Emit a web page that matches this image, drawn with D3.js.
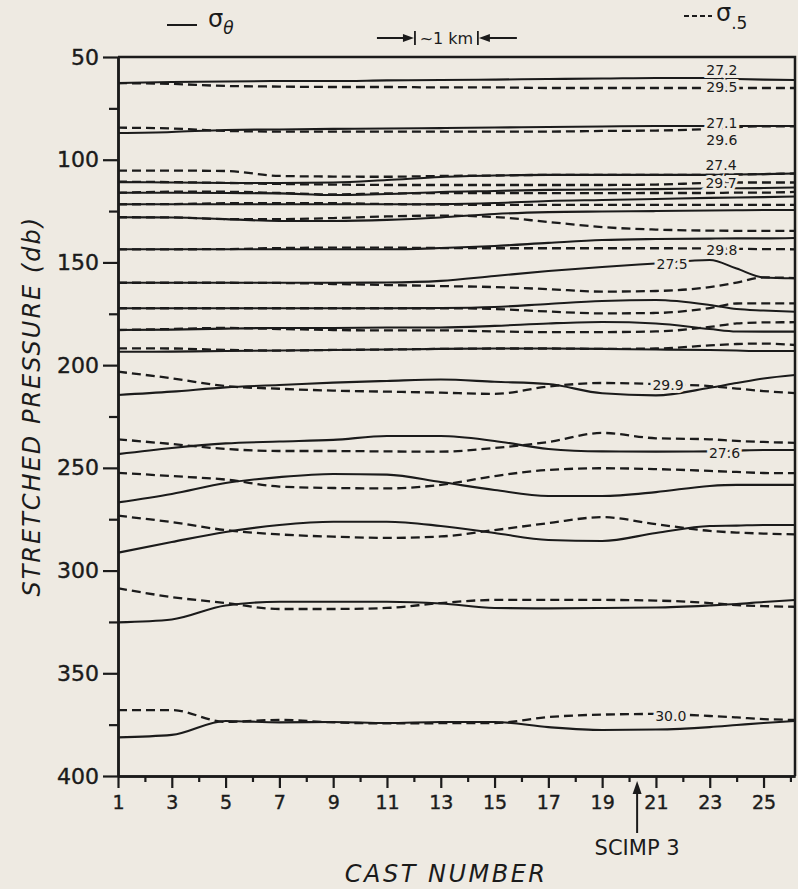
<!DOCTYPE html>
<html>
<head>
<meta charset="utf-8">
<script src="https://cdn.jsdelivr.net/npm/d3@7"></script>
<style>
  html, body { margin: 0; padding: 0; background: #eeeae2; }
  svg { display: block; }
</style>
</head>
<body>
<div id="chart"></div>
<script>
const casts = [1, 3, 5, 7, 9, 11, 13, 15, 17, 19, 21, 23, 24, 25, 26.17];

// sigma-theta surfaces (solid), stretched pressure in db at each cast
const solidLines = [
  [62.7, 62.2, 61.9, 61.7, 61.7, 61.4, 61.2, 61.0, 60.7, 60.5, 60.2, 60.2, 60.7, 61.0, 61.2], // 27.2
  [87.0, 86.5, 85.5, 85.3, 85.0, 84.8, 84.6, 84.3, 84.1, 83.8, 83.6, 83.6, 83.6, 83.6, 83.6], // 27.1
  [110.9, 111.1, 111.3, 111.3, 111.1, 109.9, 108.4, 107.7, 107.4, 107.4, 107.4, 107.4, 107.2, 107.0, 106.7], // 27.4
  [116.1, 116.1, 116.2, 116.4, 117.2, 116.7, 115.7, 115.2, 114.7, 114.5, 114.3, 114.0, 113.9, 113.8, 113.5],
  [121.7, 121.7, 121.7, 121.7, 121.7, 121.7, 121.6, 121.1, 120.1, 119.6, 119.1, 118.6, 118.4, 118.2, 117.9],
  [128.0, 128.1, 128.9, 129.8, 129.8, 129.3, 128.1, 126.4, 125.5, 125.2, 125.0, 124.7, 124.6, 124.5, 124.5],
  [143.6, 143.6, 143.6, 143.6, 143.6, 143.6, 143.0, 142.0, 140.5, 139.1, 138.6, 138.4, 138.3, 138.3, 138.1],
  [159.9, 159.9, 159.9, 159.9, 159.9, 159.8, 159.0, 156.6, 154.2, 152.2, 150.5, 148.8, 153.0, 157.3, 157.7], // 27.5
  [172.3, 172.3, 172.3, 172.3, 172.3, 172.3, 172.2, 171.7, 170.2, 168.8, 168.3, 170.7, 172.7, 173.4, 174.0],
  [182.9, 182.7, 182.2, 181.9, 181.9, 181.7, 181.7, 180.9, 179.7, 179.0, 179.7, 182.4, 183.6, 183.7, 183.7],
  [193.5, 193.4, 193.1, 192.9, 192.6, 192.4, 192.1, 191.9, 191.9, 192.1, 192.4, 192.6, 192.9, 193.1, 193.1],
  [214.5, 212.9, 210.8, 209.7, 208.5, 207.7, 207.0, 208.1, 209.2, 213.7, 214.7, 211.0, 208.7, 206.5, 204.8],
  [243.3, 240.3, 238.1, 237.2, 236.4, 234.5, 234.5, 236.9, 240.8, 242.0, 242.1, 242.0, 241.6, 241.3, 241.3], // 27.6
  [266.8, 262.7, 257.4, 254.5, 253.0, 253.3, 256.9, 260.8, 263.7, 263.7, 261.8, 258.8, 258.3, 258.3, 258.3],
  [291.3, 286.1, 281.2, 277.8, 276.2, 276.2, 278.3, 281.7, 285.1, 285.6, 281.7, 278.3, 278.1, 277.8, 277.8],
  [325.2, 323.8, 317.0, 315.2, 315.2, 315.2, 316.0, 318.2, 318.4, 318.2, 318.0, 317.0, 316.3, 315.3, 314.3],
  [381.2, 380.0, 373.2, 373.9, 373.7, 374.2, 373.7, 373.7, 376.2, 377.6, 377.4, 376.2, 375.2, 374.2, 373.2]
];

// sigma-.5 surfaces (dashed)
const dashedLines = [
  [62.7, 63.1, 64.1, 64.4, 64.6, 64.6, 64.8, 64.8, 65.1, 65.1, 65.1, 65.1, 65.1, 65.1, 65.1], // 29.5
  [84.4, 84.8, 86.0, 86.3, 86.3, 86.3, 86.3, 86.3, 86.3, 86.0, 85.8, 85.0, 84.1, 83.8, 83.8], // 29.6
  [105.3, 105.3, 105.5, 107.9, 108.2, 108.3, 107.9, 107.7, 107.4, 107.4, 107.4, 107.4, 107.2, 107.0, 106.7],
  [110.7, 110.9, 111.3, 111.8, 112.1, 112.3, 112.3, 112.3, 112.3, 112.3, 112.1, 111.3, 111.1, 111.1, 111.1], // 29.7
  [116.1, 115.6, 115.6, 116.2, 116.9, 116.4, 116.3, 116.3, 116.3, 116.3, 116.2, 116.2, 116.0, 116.0, 115.7],
  [121.7, 121.6, 121.2, 121.2, 121.2, 121.6, 121.8, 122.0, 122.0, 122.0, 122.0, 122.0, 122.0, 122.0, 122.0],
  [128.0, 128.1, 128.9, 128.9, 128.4, 127.6, 127.2, 127.9, 130.3, 132.8, 134.0, 134.5, 134.6, 134.6, 134.6],
  [143.6, 143.6, 143.5, 143.0, 142.8, 142.8, 143.0, 143.1, 143.1, 143.1, 143.1, 143.2, 143.4, 143.5, 143.6], // 29.8
  [159.9, 159.9, 159.9, 160.0, 160.5, 161.0, 161.5, 162.0, 163.0, 164.2, 163.9, 162.0, 159.8, 157.3, 157.6],
  [172.3, 172.3, 172.3, 172.3, 172.3, 172.3, 172.3, 172.7, 173.9, 174.8, 174.6, 172.2, 170.0, 169.9, 169.9],
  [182.9, 182.4, 181.9, 182.4, 182.9, 183.1, 183.1, 183.6, 183.9, 183.9, 183.6, 181.4, 179.7, 179.2, 179.1],
  [191.8, 191.9, 192.6, 192.9, 192.6, 192.4, 192.1, 191.9, 191.9, 192.1, 191.9, 190.4, 189.7, 189.5, 190.2],
  [203.2, 206.4, 210.2, 211.5, 212.4, 212.9, 213.4, 214.0, 210.4, 208.7, 209.2, 210.2, 211.4, 212.6, 213.6], // 29.9
  [236.1, 238.4, 240.8, 241.8, 241.8, 242.0, 242.1, 240.3, 237.4, 233.0, 235.6, 236.1, 236.9, 237.4, 237.8],
  [252.4, 254.0, 255.7, 259.1, 259.8, 260.0, 258.3, 254.0, 251.0, 250.2, 250.6, 251.5, 252.0, 252.5, 252.6],
  [273.3, 276.4, 280.3, 282.4, 283.5, 284.1, 283.4, 280.3, 276.9, 274.0, 277.4, 280.7, 281.5, 282.0, 282.4],
  [308.6, 312.9, 315.8, 318.7, 318.7, 318.2, 315.8, 314.3, 314.3, 314.3, 314.6, 315.8, 316.8, 317.3, 317.6],
  [367.9, 367.9, 373.7, 372.7, 373.9, 374.4, 374.3, 374.2, 371.3, 370.1, 369.8, 370.8, 371.5, 372.3, 372.7]  // 30.0
];

// contour labels: text, cast position, pressure
const labelText  = ["27.2", "29.5", "27.1", "29.6", "27.4", "29.7", "29.8", "27.5", "29.9", "27.6", "30.0"];
const labelCast  = [23.45, 23.45, 23.45, 23.45, 23.42, 23.42, 23.45, 21.6, 21.45, 23.55, 21.55];
const labelPress = [56.3, 64.8, 81.9, 90.4, 102.6, 111.1, 144.0, 150.8, 209.7, 242.6, 370.6];

const pressTicks = [50, 100, 150, 200, 250, 300, 350, 400];
const pressMinor = [75, 125, 175, 225, 275, 325, 375];
const castTicks = [1, 3, 5, 7, 9, 11, 13, 15, 17, 19, 21, 23, 25];
const castMinor = [2, 4, 6, 8, 10, 12, 14, 16, 18, 20, 22, 24, 26];
const scimpCast = 20.3;
const kmSpan = [12.04, 14.38];

const bg = "#eeeae2";
const ink = "#1b1b1b";

function drawChart(container, {width, height}) {
  const margin = {top: 57, right: 3, bottom: 113, left: 118};
  const w = width - margin.left - margin.right;
  const h = height - margin.top - margin.bottom;

  const svg = d3.select(container).append("svg")
    .attr("width", width)
    .attr("height", height)
    .style("background", bg);

  const g = svg.append("g")
    .attr("transform", `translate(${margin.left},${margin.top})`);

  const x = d3.scaleLinear().domain([1, 26.17]).range([0, w]);
  const y = d3.scaleLinear().domain([50, 400]).range([0, h]);

  const line = d3.line()
    .x((d, i) => x(casts[i]))
    .y(d => y(d))
    .curve(d3.curveMonotoneX);

  g.selectAll("path.theta")
    .data(solidLines)
    .join("path")
      .attr("class", "theta")
      .attr("d", line)
      .attr("fill", "none")
      .attr("stroke", ink)
      .attr("stroke-width", 2.1);

  g.selectAll("path.sig5")
    .data(dashedLines)
    .join("path")
      .attr("class", "sig5")
      .attr("d", line)
      .attr("fill", "none")
      .attr("stroke", ink)
      .attr("stroke-width", 2.3)
      .attr("stroke-dasharray", "9,5");

  // contour labels, with a background halo to break the line
  g.selectAll("text.clabel")
    .data(labelText)
    .join("text")
      .attr("class", "clabel")
      .attr("x", (d, i) => x(labelCast[i]))
      .attr("y", (d, i) => y(labelPress[i]))
      .attr("dy", "0.36em")
      .attr("text-anchor", "middle")
      .style("font-family", "DejaVu Sans, sans-serif")
      .style("font-size", "14px")
      .attr("fill", ink)
      .attr("stroke", bg)
      .attr("stroke-width", 6)
      .attr("paint-order", "stroke")
      .text(d => d);

  // frame (top and right)
  g.append("path")
    .attr("d", `M0,${y(50)}H${x(26.17)}V${y(400)}`)
    .attr("fill", "none")
    .attr("stroke", ink)
    .attr("stroke-width", 2.5);

  // axes
  const yAxis = g.append("g")
    .call(d3.axisLeft(y).tickValues(pressTicks).tickSize(15).tickSizeOuter(0).tickPadding(4));
  g.append("g")
    .call(d3.axisLeft(y).tickValues(pressMinor).tickSize(9).tickSizeOuter(0).tickFormat(""));

  const xAxis = g.append("g")
    .attr("transform", `translate(0,${h})`)
    .call(d3.axisBottom(x).tickValues(castTicks).tickSize(12).tickSizeOuter(0).tickPadding(8));
  g.append("g")
    .attr("transform", `translate(0,${h})`)
    .call(d3.axisBottom(x).tickValues(castMinor).tickSize(6).tickSizeOuter(0).tickFormat(""));

  g.selectAll(".domain").attr("stroke", ink).attr("stroke-width", 2.5);
  g.selectAll(".tick line").attr("stroke", ink).attr("stroke-width", 2.2);
  yAxis.selectAll("text")
    .style("font-family", "DejaVu Sans, sans-serif")
    .style("font-size", "22px")
    .attr("fill", ink)
    .attr("stroke", ink)
    .attr("stroke-width", 0.4);
  xAxis.selectAll("text")
    .style("font-family", "DejaVu Sans, sans-serif")
    .style("font-size", "19px")
    .attr("fill", ink)
    .attr("stroke", ink)
    .attr("stroke-width", 0.4);

  // axis titles
  svg.append("text")
    .attr("transform", `translate(40,${margin.top + y(220)}) rotate(-90)`)
    .attr("text-anchor", "middle")
    .style("font-family", "DejaVu Sans, sans-serif")
    .style("font-style", "italic")
    .style("font-size", "24px")
    .style("letter-spacing", "2px")
    .attr("fill", ink)
    .text("STRETCHED PRESSURE (db)");

  svg.append("text")
    .attr("x", margin.left + x(13.2))
    .attr("y", 882)
    .attr("text-anchor", "middle")
    .style("font-family", "DejaVu Sans, sans-serif")
    .style("font-style", "italic")
    .style("font-size", "24px")
    .style("letter-spacing", "2.5px")
    .attr("fill", ink)
    .text("CAST NUMBER");

  // SCIMP 3 marker
  const sx = margin.left + x(scimpCast);
  svg.append("line")
    .attr("x1", sx).attr("x2", sx)
    .attr("y1", 833).attr("y2", 790)
    .attr("stroke", ink).attr("stroke-width", 2);
  svg.append("path")
    .attr("d", `M${sx},781L${sx - 4.5},794L${sx + 4.5},794Z`)
    .attr("fill", ink);
  svg.append("text")
    .attr("x", sx)
    .attr("y", 855)
    .attr("text-anchor", "middle")
    .style("font-family", "DejaVu Sans, sans-serif")
    .style("font-size", "21px")
    .attr("fill", ink)
    .text("SCIMP 3");

  // ~1 km scale bar
  const k0 = margin.left + x(kmSpan[0]);
  const k1 = margin.left + x(kmSpan[1]);
  const ky = 38;
  const km = svg.append("g").attr("stroke", ink).attr("stroke-width", 1.8);
  km.append("line").attr("x1", k0).attr("x2", k0).attr("y1", ky - 7).attr("y2", ky + 7);
  km.append("line").attr("x1", k1).attr("x2", k1).attr("y1", ky - 7).attr("y2", ky + 7);
  km.append("line").attr("x1", k0 - 38).attr("x2", k0 - 4).attr("y1", ky).attr("y2", ky);
  km.append("line").attr("x1", k1 + 4).attr("x2", k1 + 39).attr("y1", ky).attr("y2", ky);
  svg.append("path")
    .attr("d", `M${k0 - 1},${ky}L${k0 - 12},${ky - 4}L${k0 - 12},${ky + 4}Z` +
               `M${k1 + 1},${ky}L${k1 + 12},${ky - 4}L${k1 + 12},${ky + 4}Z`)
    .attr("fill", ink);
  svg.append("text")
    .attr("x", (k0 + k1) / 2)
    .attr("y", ky + 6)
    .attr("text-anchor", "middle")
    .style("font-family", "DejaVu Sans, sans-serif")
    .style("font-size", "16px")
    .attr("fill", ink)
    .text("~1 km");

  // legend
  svg.append("line")
    .attr("x1", 167).attr("x2", 197).attr("y1", 25).attr("y2", 25)
    .attr("stroke", ink).attr("stroke-width", 2);
  const l1 = svg.append("text")
    .attr("x", 208).attr("y", 27)
    .style("font-family", "DejaVu Sans, sans-serif")
    .attr("fill", ink);
  l1.append("tspan").style("font-size", "24px").text("σ");
  l1.append("tspan").style("font-size", "17px").style("font-style", "italic").attr("dy", 7).text("θ");

  svg.append("line")
    .attr("x1", 684).attr("x2", 712).attr("y1", 16).attr("y2", 16)
    .attr("stroke", ink).attr("stroke-width", 2)
    .attr("stroke-dasharray", "5,3");
  const l2 = svg.append("text")
    .attr("x", 716).attr("y", 21)
    .style("font-family", "DejaVu Sans, sans-serif")
    .attr("fill", ink);
  l2.append("tspan").style("font-size", "24px").text("σ");
  l2.append("tspan").style("font-size", "17px").attr("dy", 8).text(".5");

  return svg;
}

drawChart(document.getElementById("chart"), {width: 798, height: 889});
</script>
</body>
</html>
